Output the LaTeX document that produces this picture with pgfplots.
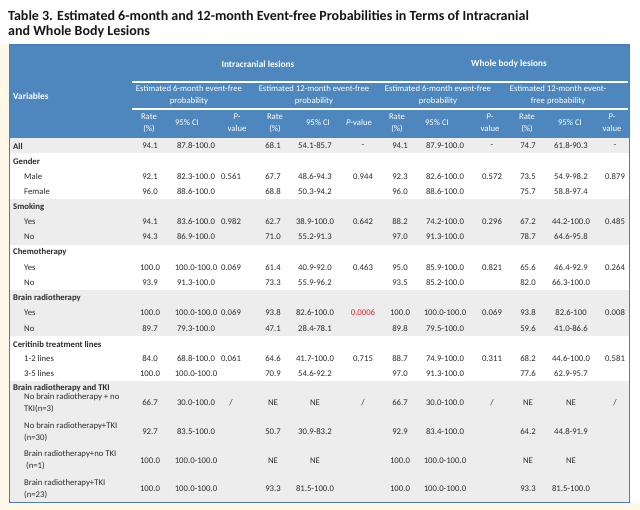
\documentclass[border=0pt]{standalone}
\usepackage{pgfplots}
\pgfplotsset{compat=1.18}
\usepackage{pgfplotstable}
\usepackage{fontspec}
\setmainfont{Carlito}
\definecolor{hdr}{HTML}{4D87BE}
\definecolor{bord}{HTML}{4A7EBB}
\definecolor{rowg}{HTML}{EDEDED}
\definecolor{cream}{HTML}{FFF8E8}
\definecolor{txt}{HTML}{2B2B2B}
\definecolor{ttl}{HTML}{161616}
\definecolor{pred}{HTML}{E8202A}

% y = row centre (pixels from top); one column per table column
\pgfplotstableread[col sep=comma]{
y,r6,ci6,p6,r12,ci12,p12,wr6,wci6,wp6,wr12,wci12,wp12
146,94.1,87.8-100.0,{},68.1,54.1-85.7,-,94.1,87.9-100.0,-,74.7,61.8-90.3,-
176.5,92.1,82.3-100.0,0.561,67.7,48.6-94.3,0.944,92.3,82.6-100.0,0.572,73.5,54.9-98.2,0.879
191.5,96.0,88.6-100.0,{},68.8,50.3-94.2,{},96.0,88.6-100.0,{},75.7,58.8-97.4,{}
222,94.1,83.6-100.0,0.982,62.7,38.9-100.0,0.642,88.2,74.2-100.0,0.296,67.2,44.2-100.0,0.485
237,94.3,86.9-100.0,{},71.0,55.2-91.3,{},97.0,91.3-100.0,{},78.7,64.6-95.8,{}
268,100.0,100.0-100.0,0.069,61.4,40.9-92.0,0.463,95.0,85.9-100.0,0.821,65.6,46.4-92.9,0.264
283,93.9,91.3-100.0,{},73.3,55.9-96.2,{},93.5,85.2-100.0,{},82.0,66.3-100.0,{}
313,100.0,100.0-100.0,0.069,93.8,82.6-100.0,{},100.0,100.0-100.0,0.069,93.8,82.6-100,0.008
328.5,89.7,79.3-100.0,{},47.1,28.4-78.1,{},89.8,79.5-100.0,{},59.6,41.0-86.6,{}
359,84.0,68.8-100.0,0.061,64.6,41.7-100.0,0.715,88.7,74.9-100.0,0.311,68.2,44.6-100.0,0.581
374,100.0,100.0-100.0,{},70.9,54.6-92.2,{},97.0,91.3-100.0,{},77.6,62.9-95.7,{}
403,66.7,30.0-100.0,/,NE,NE,/,66.7,30.0-100.0,/,NE,NE,/
432,92.7,83.5-100.0,{},50.7,30.9-83.2,{},92.9,83.4-100.0,{},64.2,44.8-91.9,{}
460.5,100.0,100.0-100.0,{},NE,NE,{},100.0,100.0-100.0,{},NE,NE,{}
489,100.0,100.0-100.0,{},93.3,81.5-100.0,{},100.0,100.0-100.0,{},93.3,81.5-100.0,{}
}\datatable

\newcommand\bodyfont{\fontsize{8.7}{12}\selectfont}
\newcommand\hdbold{\fontsize{9.3}{12}\selectfont\bfseries}
\pgfplotsset{
  cell/.style={draw=none, mark=none, forget plot,
    nodes near coords={\pgfplotspointmeta}, point meta=explicit symbolic,
    every node near coord/.append style={anchor=center, inner sep=0pt,
      font=\bodyfont, text=txt}},
}

\begin{document}
\begin{tikzpicture}
\begin{axis}[width=640pt, height=510pt, scale only axis,
  xmin=0, xmax=640, ymin=0, ymax=510, y dir=reverse,
  axis lines=none, xtick=\empty, ytick=\empty, clip=false]

% backgrounds
\fill[white] (axis cs:0,0) rectangle (axis cs:640,510);
\fill[cream] (axis cs:0,503) rectangle (axis cs:640,510);
\fill[cream] (axis cs:0,44) rectangle (axis cs:9,510);
\fill[hdr] (axis cs:9.5,45) rectangle (axis cs:629.5,138);
\fill[rowg] (axis cs:9.5,138) rectangle (axis cs:629.5,153.5);
\fill[rowg] (axis cs:9.5,199) rectangle (axis cs:629.5,244.7);
\fill[rowg] (axis cs:9.5,290.3) rectangle (axis cs:629.5,336);
\fill[rowg] (axis cs:9.5,381.5) rectangle (axis cs:629.5,502.5);
\draw[white, line width=1.8pt] (axis cs:132,82) -- (axis cs:628,82);
\draw[white, line width=1.8pt] (axis cs:132,109) -- (axis cs:628,109);
\draw[bord, line width=1.5pt] (axis cs:9.5,45) rectangle (axis cs:629.5,502.5);

% title
\node[anchor=west, inner sep=0pt, text=ttl, font=\fontsize{14}{16}\selectfont\bfseries]
  at (axis cs:8,15.5) {Table 3. Estimated 6-month and 12-month Event-free Probabilities in Terms of Intracranial};
\node[anchor=west, inner sep=0pt, text=ttl, font=\fontsize{14}{16}\selectfont\bfseries]
  at (axis cs:8,32) {and Whole Body Lesions};

% header
\begin{scope}[every node/.style={text=white, font=\bodyfont, align=center, inner sep=0pt}]
\node[font=\hdbold] at (axis cs:258,64) {Intracranial lesions};
\node[font=\hdbold] at (axis cs:509,64) {Whole body lesions};
\node[font=\hdbold, anchor=west] at (axis cs:13,96) {Variables};
\node at (axis cs:189,95.5) {Estimated 6-month event-free\\probability};
\node at (axis cs:314,95.5) {Estimated 12-month event-free\\probability};
\node at (axis cs:438,95.5) {Estimated 6-month event-free\\probability};
\node at (axis cs:558,95.5) {Estimated 12-month event-\\free probability};
\node at (axis cs:149,123) {Rate\\(\%)};
\node at (axis cs:275,123) {Rate\\(\%)};
\node at (axis cs:397,123) {Rate\\(\%)};
\node at (axis cs:527,123) {Rate\\(\%)};
\node at (axis cs:187,123) {95\% CI};
\node at (axis cs:318,123) {95\% CI};
\node at (axis cs:437,123) {95\% CI};
\node at (axis cs:570,123) {95\% CI};
\node at (axis cs:237,123) {\textit{P}-\\value};
\node at (axis cs:359,123) {\textit{P}-value};
\node at (axis cs:490,123) {\textit{P}-\\value};
\node at (axis cs:612,123) {\textit{P}-\\value};
\end{scope}

% row labels
\begin{scope}[every node/.style={text=txt, font=\bodyfont, anchor=west, align=left, inner sep=0pt}]
\node[font=\bodyfont\bfseries] at (axis cs:13,146) {All};
\node[font=\bodyfont\bfseries] at (axis cs:13,161) {Gender};
\node at (axis cs:24,176.5) {Male};
\node at (axis cs:24,191.5) {Female};
\node[font=\bodyfont\bfseries] at (axis cs:13,207) {Smoking};
\node at (axis cs:24,222) {Yes};
\node at (axis cs:24,237) {No};
\node[font=\bodyfont\bfseries] at (axis cs:13,252.5) {Chemotherapy};
\node at (axis cs:24,268) {Yes};
\node at (axis cs:24,283) {No};
\node[font=\bodyfont\bfseries] at (axis cs:13,298) {Brain radiotherapy};
\node at (axis cs:24,313) {Yes};
\node at (axis cs:24,328.5) {No};
\node[font=\bodyfont\bfseries] at (axis cs:13,344) {Ceritinib treatment lines};
\node at (axis cs:24,359) {1-2 lines};
\node at (axis cs:24,374) {3-5 lines};
\node[font=\bodyfont\bfseries] at (axis cs:13,388) {Brain radiotherapy and TKI};
\node at (axis cs:24,403) {No brain radiotherapy + no\\TKI(n=3)};
\node at (axis cs:24,432) {No brain radiotherapy+TKI\\(n=30)};
\node at (axis cs:24,460.5) {Brain radiotherapy+no TKI\\\ (n=1)};
\node at (axis cs:24,489) {Brain radiotherapy+TKI\\(n=23)};
\end{scope}

% data cells
\addplot[cell] table[x expr=150, y=y, meta=r6] {\datatable};
\addplot[cell] table[x expr=196, y=y, meta=ci6] {\datatable};
\addplot[cell] table[x expr=231, y=y, meta=p6] {\datatable};
\addplot[cell] table[x expr=273, y=y, meta=r12] {\datatable};
\addplot[cell] table[x expr=315, y=y, meta=ci12] {\datatable};
\addplot[cell] table[x expr=363, y=y, meta=p12] {\datatable};
\addplot[cell] table[x expr=400, y=y, meta=wr6] {\datatable};
\addplot[cell] table[x expr=445, y=y, meta=wci6] {\datatable};
\addplot[cell] table[x expr=492, y=y, meta=wp6] {\datatable};
\addplot[cell] table[x expr=528, y=y, meta=wr12] {\datatable};
\addplot[cell] table[x expr=571, y=y, meta=wci12] {\datatable};
\addplot[cell] table[x expr=615, y=y, meta=wp12] {\datatable};
% highlighted p-value
\addplot[cell, every node near coord/.append style={text=pred}] coordinates {(363,313) [0.0006]};

\end{axis}
\end{tikzpicture}
\end{document}
